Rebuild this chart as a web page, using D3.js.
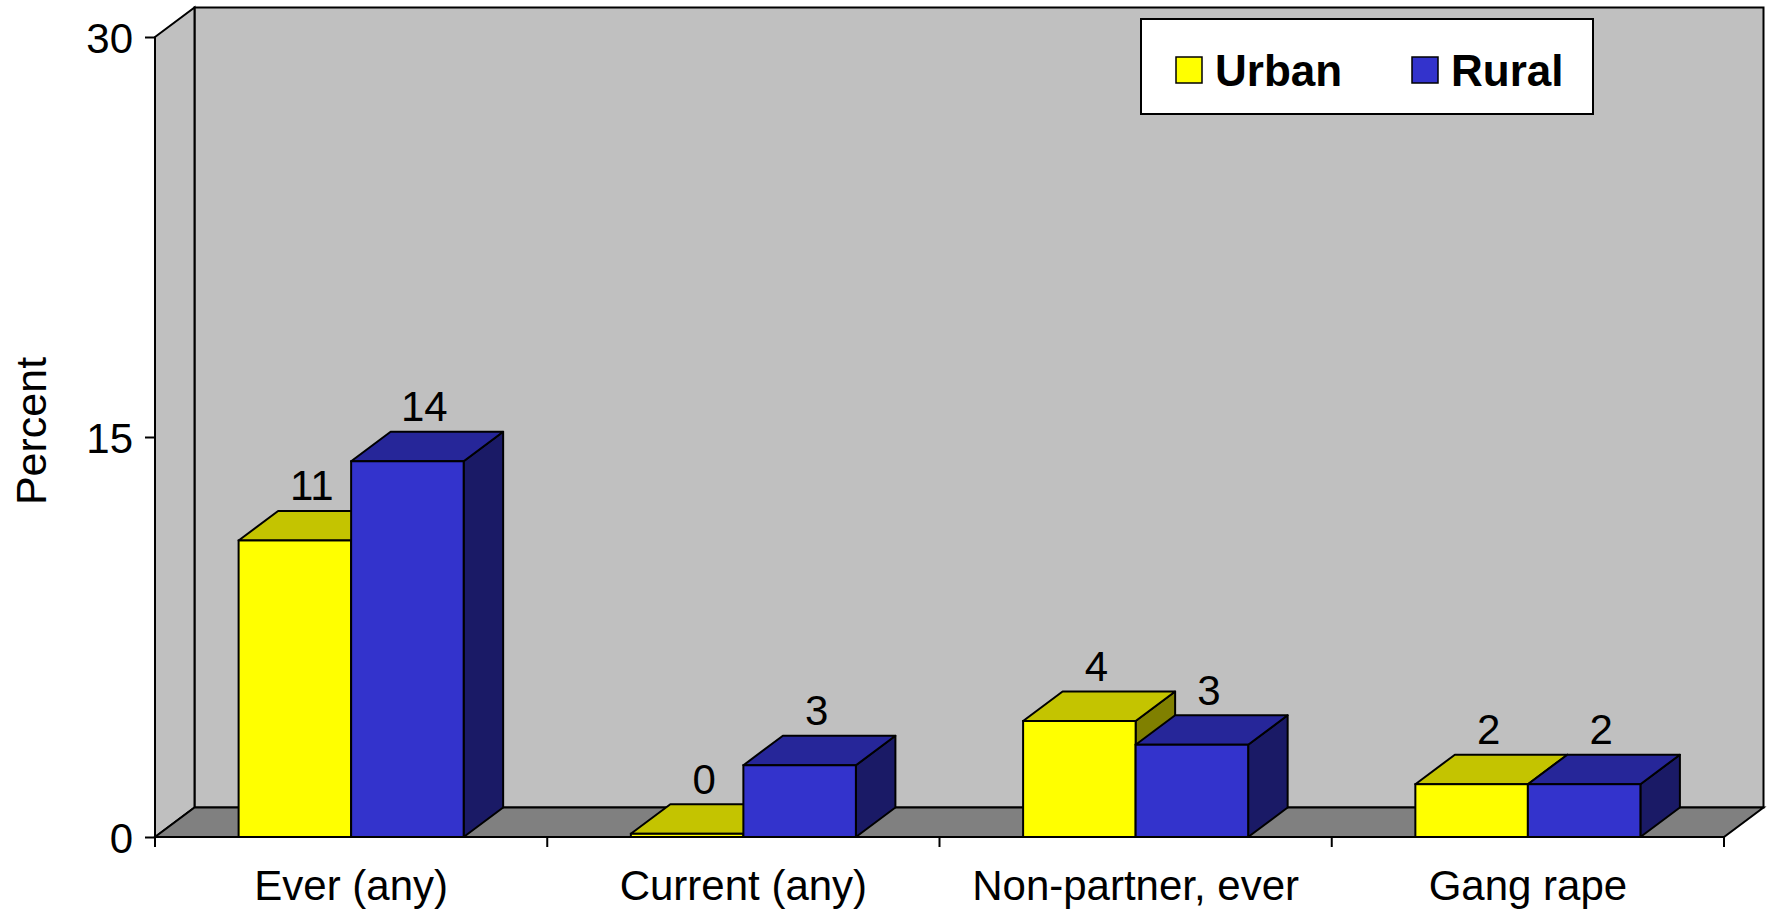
<!DOCTYPE html>
<html>
<head>
<meta charset="utf-8">
<script src="https://cdn.jsdelivr.net/npm/d3@7"></script>
<style>
  html, body { margin: 0; padding: 0; background: #fff; }
  svg { display: block; }
  text { font-family: "Liberation Sans", Arial, sans-serif; fill: #000; }
</style>
</head>
<body>
<svg id="chart" width="1773" height="914"></svg>
<script>
// ---- data ----
const categories = ["Ever (any)", "Current (any)", "Non-partner, ever", "Gang rape"];
const seriesNames = ["Urban", "Rural"];
const urbanValues = [11.12, 0.12, 4.35, 1.98];
const ruralValues = [14.09, 2.69, 3.46, 1.98];
const yTicks = [0, 15, 30];
const yLabel = "Percent";

// ---- styling / layout ----
const W = 1773, H = 914;
const plotLeft = 155, plotRight = 1724, plotBottom = 837, plotTop = 37;
const DX = 39.5, DY = -29.5; // 3D depth offset
const colors = {
  Urban: { front: "#FFFF00", top: "#C4C400", side: "#808000" },
  Rural: { front: "#3333CC", top: "#262699", side: "#1A1A66" }
};

const svg = d3.select("#chart");
svg.append("rect").attr("width", W).attr("height", H).attr("fill", "#fff");

const x = d3.scaleBand().domain(categories).range([plotLeft, plotRight]).padding(0);
const xs = d3.scaleBand().domain(seriesNames).range([0, x.bandwidth()])
  .paddingInner(0).paddingOuter(0.743);
const y = d3.scaleLinear().domain([0, 30]).range([plotBottom, plotTop]);

const line = d3.line();

// back wall
svg.append("path")
  .attr("d", line([[plotLeft + DX, y(30) + DY], [plotRight + DX, y(30) + DY], [plotRight + DX, y(0) + DY], [plotLeft + DX, y(0) + DY]]) + "Z")
  .attr("fill", "#C0C0C0").attr("stroke", "#000").attr("stroke-width", 2);
// left side wall
svg.append("path")
  .attr("d", line([[plotLeft, y(30)], [plotLeft + DX, y(30) + DY], [plotLeft + DX, y(0) + DY], [plotLeft, y(0)]]) + "Z")
  .attr("fill", "#C0C0C0").attr("stroke", "#000").attr("stroke-width", 2);
// floor
svg.append("path")
  .attr("d", line([[plotLeft, y(0)], [plotLeft + DX, y(0) + DY], [plotRight + DX, y(0) + DY], [plotRight, y(0)]]) + "Z")
  .attr("fill", "#808080").attr("stroke", "#000").attr("stroke-width", 2);

// bars
const rows = [];
categories.forEach((c, i) => {
  rows.push({ cat: c, s: "Urban", v: urbanValues[i] });
  rows.push({ cat: c, s: "Rural", v: ruralValues[i] });
});

const g = svg.append("g");
rows.forEach(d => {
  const x0 = x(d.cat) + xs(d.s), x1 = x0 + xs.bandwidth();
  const y0 = y(0), y1 = y(d.v);
  const col = colors[d.s];
  const bg = g.append("g");
  bg.append("path")
    .attr("d", line([[x1, y1], [x1 + DX, y1 + DY], [x1 + DX, y0 + DY], [x1, y0]]) + "Z")
    .attr("fill", col.side).attr("stroke", "#000").attr("stroke-width", 2).attr("stroke-linejoin", "round");
  bg.append("path")
    .attr("d", line([[x0, y1], [x0 + DX, y1 + DY], [x1 + DX, y1 + DY], [x1, y1]]) + "Z")
    .attr("fill", col.top).attr("stroke", "#000").attr("stroke-width", 2).attr("stroke-linejoin", "round");
  bg.append("rect")
    .attr("x", x0).attr("y", y1).attr("width", x1 - x0).attr("height", y0 - y1)
    .attr("fill", col.front).attr("stroke", "#000").attr("stroke-width", 2);
});

// data labels
const fmt = d3.format(".0f");
svg.append("g").selectAll("text").data(rows).join("text")
  .attr("x", d => x(d.cat) + xs(d.s) + xs.bandwidth() / 2 + 17)
  .attr("y", d => y(d.v) - 40)
  .attr("text-anchor", "middle")
  .attr("font-size", 42)
  .text(d => fmt(d.v));

// y axis ticks
const yAxis = d3.axisLeft(y).tickValues(yTicks).tickSize(10).tickPadding(12).tickFormat(d3.format("d"));
const ya = svg.append("g").attr("transform", `translate(${plotLeft},0)`).call(yAxis);
ya.select(".domain").remove();
ya.selectAll(".tick line").attr("stroke", "#000").attr("stroke-width", 2);
ya.selectAll(".tick text").attr("font-size", 42).attr("font-family", "Liberation Sans, Arial, sans-serif")
  .attr("fill", "#000").attr("dy", "0.36em");

// x axis: front baseline with boundary ticks
const xa = svg.append("g");
xa.append("line").attr("x1", plotLeft).attr("x2", plotRight).attr("y1", y(0)).attr("y2", y(0))
  .attr("stroke", "#000").attr("stroke-width", 2);
const bounds = categories.map(c => x(c)).concat([x(categories[categories.length - 1]) + x.bandwidth()]);
xa.selectAll("line.tk").data(bounds).join("line").attr("class", "tk")
  .attr("x1", d => d).attr("x2", d => d).attr("y1", y(0)).attr("y2", y(0) + 10)
  .attr("stroke", "#000").attr("stroke-width", 2);
xa.selectAll("text").data(categories).join("text")
  .attr("x", d => x(d) + x.bandwidth() / 2)
  .attr("y", 900)
  .attr("text-anchor", "middle")
  .attr("font-size", 42)
  .text(d => d);

// y label
svg.append("text")
  .attr("transform", "translate(46,431) rotate(-90)")
  .attr("text-anchor", "middle")
  .attr("font-size", 43)
  .text(yLabel);

// legend
const lg = svg.append("g");
lg.append("rect").attr("x", 1141).attr("y", 19).attr("width", 452).attr("height", 95)
  .attr("fill", "#fff").attr("stroke", "#000").attr("stroke-width", 2);
const legX = [1176, 1412];
seriesNames.forEach((s, i) => {
  lg.append("rect").attr("x", legX[i]).attr("y", 57).attr("width", 26).attr("height", 26)
    .attr("fill", colors[s].front).attr("stroke", "#000").attr("stroke-width", 1.5);
  lg.append("text").attr("x", legX[i] + 39).attr("y", 86)
    .attr("font-size", 44).attr("font-weight", "bold").text(s);
});
</script>
</body>
</html>
